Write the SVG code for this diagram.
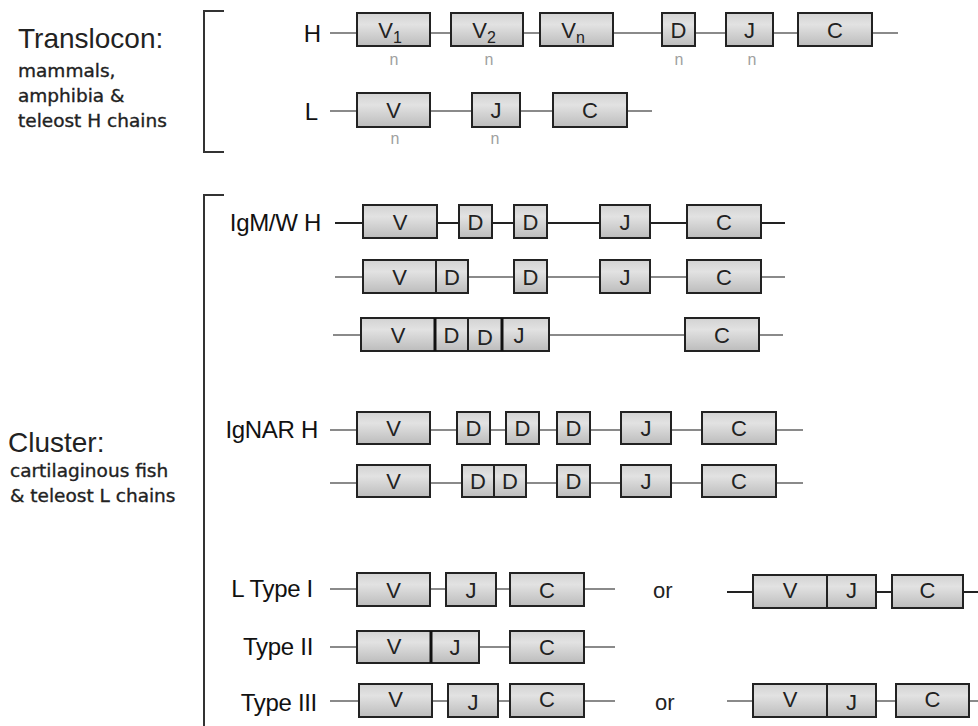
<svg xmlns="http://www.w3.org/2000/svg" width="978" height="726" viewBox="0 0 978 726">
<defs>
<linearGradient id="g" x1="0" y1="0" x2="0" y2="1">
<stop offset="0" stop-color="#d2d2d2"/>
<stop offset="0.35" stop-color="#e2e2e2"/>
<stop offset="1" stop-color="#bcbcbc"/>
</linearGradient>
<style>
.b rect{fill:url(#g);stroke:#222;stroke-width:2}
.b text,.t{font-family:"Liberation Sans",Arial,sans-serif;fill:#222}
.b text{font-size:22px;text-anchor:middle}
.s{font-family:"DejaVu Sans",Verdana,sans-serif;font-size:18.5px;fill:#222;stroke:#222;stroke-width:0.35}
.lbl{font-family:"Liberation Sans",Arial,sans-serif;font-size:24px;fill:#111;text-anchor:end}
.n{font-family:"Liberation Sans",Arial,sans-serif;font-size:16px;fill:#a0a0a0;text-anchor:middle}
.ln{stroke:#8a8a8a;stroke-width:2;fill:none}
.dk{stroke:#222}
.br{stroke:#333;stroke-width:2;fill:none}
.thick{stroke:#111;stroke-width:3}
</style>
</defs>
<rect width="978" height="726" fill="#fff"/>

<g id="left-labels">
<text class="t" x="18" y="48" font-size="28">Translocon:</text>
<text class="s" x="18" y="77">mammals,</text>
<text class="s" x="18" y="102">amphibia &amp;</text>
<text class="s" x="18" y="127">teleost H chains</text>
<text class="t" x="8" y="452" font-size="28">Cluster:</text>
<text class="s" x="10" y="477">cartilaginous fish</text>
<text class="s" x="10" y="502">&amp; teleost L chains</text>
</g>

<g id="brackets">
<path class="br" d="M224,11 H204 V152 H224"/>
<path class="br" d="M224,195 H204 V726"/>
</g>

<g id="row-labels">
<text class="lbl" x="321" y="42" font-size="25">H</text>
<text class="lbl" x="318" y="120" font-size="25">L</text>
<text class="lbl" x="321" y="231" letter-spacing="-0.3">IgM/W H</text>
<text class="lbl" x="318" y="438" letter-spacing="-0.3">IgNAR H</text>
<text class="lbl" x="313" y="597" letter-spacing="-0.3">L Type I</text>
<text class="lbl" x="313" y="655" letter-spacing="-0.3">Type II</text>
<text class="lbl" x="317" y="711" letter-spacing="-0.3">Type III</text>
<text class="t" x="653" y="598" font-size="22">or</text>
<text class="t" x="655" y="710" font-size="22">or</text>
</g>

<g id="connectors">
<line class="ln" x1="330" y1="33" x2="898" y2="33" stroke="#6a6a6a"/>
<line class="ln" x1="330" y1="111" x2="652" y2="111"/>
<line class="ln dk" x1="335" y1="223" x2="785" y2="223"/>
<line class="ln" x1="335" y1="277" x2="785" y2="277"/>
<line class="ln" x1="333" y1="335" x2="783" y2="335"/>
<line class="ln" x1="330" y1="430" x2="803" y2="430"/>
<line class="ln" x1="330" y1="483" x2="803" y2="483"/>
<line class="ln" x1="330" y1="589" x2="615" y2="589"/>
<line class="ln dk" x1="727" y1="592" x2="978" y2="592"/>
<line class="ln" x1="330" y1="647" x2="615" y2="647"/>
<line class="ln" x1="330" y1="701" x2="615" y2="701"/>
<line class="ln" x1="727" y1="701" x2="978" y2="701"/>
</g>

<g id="translocon-H">
<g id="h-v1" class="b"><rect x="357" y="13" width="73" height="33"/><text x="390" y="38">V<tspan font-size="16" dy="5">1</tspan></text></g>
<g id="h-v2" class="b"><rect x="451" y="13" width="72" height="33"/><text x="484" y="38">V<tspan font-size="16" dy="5">2</tspan></text></g>
<g id="h-vn" class="b"><rect x="540" y="13" width="73" height="33"/><text x="573" y="38">V<tspan font-size="16" dy="5">n</tspan></text></g>
<g id="h-d" class="b"><rect x="662" y="13" width="33" height="33"/><text x="678.5" y="38">D</text></g>
<g id="h-j" class="b"><rect x="726" y="13" width="47" height="33"/><text x="749.5" y="38">J</text></g>
<g id="h-c" class="b"><rect x="798" y="13" width="74" height="33"/><text x="835" y="38">C</text></g>
<text class="n" x="394" y="65">n</text>
<text class="n" x="489" y="65">n</text>
<text class="n" x="679" y="65">n</text>
<text class="n" x="752" y="65">n</text>
</g>

<g id="translocon-L">
<g id="l-v" class="b"><rect x="357" y="93" width="73" height="34"/><text x="393.5" y="118">V</text></g>
<g id="l-j" class="b"><rect x="472" y="93" width="48" height="34"/><text x="496" y="118">J</text></g>
<g id="l-c" class="b"><rect x="553" y="93" width="74" height="34"/><text x="590" y="118">C</text></g>
<text class="n" x="395" y="144">n</text>
<text class="n" x="495" y="144">n</text>
</g>

<g id="igm-1">
<g id="m1-v" class="b"><rect x="363" y="205" width="74" height="33"/><text x="400" y="230">V</text></g>
<g id="m1-d1" class="b"><rect x="459" y="205" width="33" height="33"/><text x="475.5" y="230">D</text></g>
<g id="m1-d2" class="b"><rect x="514" y="205" width="33" height="33"/><text x="530.5" y="230">D</text></g>
<g id="m1-j" class="b"><rect x="600" y="205" width="50" height="33"/><text x="625" y="230">J</text></g>
<g id="m1-c" class="b"><rect x="687" y="205" width="74" height="33"/><text x="724" y="230">C</text></g>
</g>

<g id="igm-2">
<g id="m2-v" class="b"><rect x="363" y="260" width="73" height="33"/><text x="399.5" y="285">V</text></g>
<g id="m2-d1" class="b"><rect x="436" y="260" width="32" height="33"/><text x="452" y="285">D</text></g>
<g id="m2-d2" class="b"><rect x="514" y="260" width="33" height="33"/><text x="530.5" y="285">D</text></g>
<g id="m2-j" class="b"><rect x="600" y="260" width="50" height="33"/><text x="625" y="285">J</text></g>
<g id="m2-c" class="b"><rect x="687" y="260" width="74" height="33"/><text x="724" y="285">C</text></g>
</g>

<g id="igm-3">
<g id="m3-v" class="b"><rect x="361" y="318" width="74" height="33"/><text x="398" y="343">V</text></g>
<g id="m3-d1" class="b"><rect x="435" y="318" width="33" height="33"/><text x="451.5" y="343">D</text></g>
<g id="m3-d2" class="b"><rect x="468" y="318" width="34" height="33"/><text x="485" y="345">D</text></g>
<g id="m3-j" class="b"><rect x="502" y="318" width="47" height="33"/><text x="519" y="343">J</text></g>
<line class="thick" x1="435" y1="318" x2="435" y2="351"/>
<line class="thick" x1="502" y1="318" x2="502" y2="351"/>
<g id="m3-c" class="b"><rect x="685" y="318" width="74" height="33"/><text x="722" y="343">C</text></g>
</g>

<g id="ignar-1">
<g id="n1-v" class="b"><rect x="357" y="412" width="73" height="32"/><text x="393.5" y="436">V</text></g>
<g id="n1-d1" class="b"><rect x="457" y="412" width="33" height="32"/><text x="473.5" y="436">D</text></g>
<g id="n1-d2" class="b"><rect x="506" y="412" width="33" height="32"/><text x="522.5" y="436">D</text></g>
<g id="n1-d3" class="b"><rect x="557" y="412" width="33" height="32"/><text x="573.5" y="436">D</text></g>
<g id="n1-j" class="b"><rect x="621" y="412" width="50" height="32"/><text x="646" y="436">J</text></g>
<g id="n1-c" class="b"><rect x="702" y="412" width="74" height="32"/><text x="739" y="436">C</text></g>
</g>

<g id="ignar-2">
<g id="n2-v" class="b"><rect x="357" y="465" width="73" height="32"/><text x="393.5" y="489">V</text></g>
<g id="n2-d1" class="b"><rect x="462" y="465" width="32" height="32"/><text x="478" y="489">D</text></g>
<g id="n2-d2" class="b"><rect x="494" y="465" width="32" height="32"/><text x="510" y="489">D</text></g>
<g id="n2-d3" class="b"><rect x="557" y="465" width="33" height="32"/><text x="573.5" y="489">D</text></g>
<g id="n2-j" class="b"><rect x="621" y="465" width="50" height="32"/><text x="646" y="489">J</text></g>
<g id="n2-c" class="b"><rect x="702" y="465" width="74" height="32"/><text x="739" y="489">C</text></g>
</g>

<g id="ltype1">
<g id="t1-v" class="b"><rect x="357" y="573" width="73" height="33"/><text x="393.5" y="598">V</text></g>
<g id="t1-j" class="b"><rect x="446" y="573" width="50" height="33"/><text x="471" y="598">J</text></g>
<g id="t1-c" class="b"><rect x="510" y="573" width="74" height="33"/><text x="547" y="598">C</text></g>
</g>
<g id="ltype1-alt">
<g id="t1b-v" class="b"><rect x="753" y="575" width="74" height="33"/><text x="790" y="598">V</text></g>
<g id="t1b-j" class="b"><rect x="827" y="575" width="49" height="33"/><text x="851.5" y="598">J</text></g>
<g id="t1b-c" class="b"><rect x="892" y="575" width="71" height="33"/><text x="927.5" y="598">C</text></g>
</g>

<g id="ltype2">
<g id="t2-v" class="b"><rect x="357" y="631" width="74" height="32"/><text x="394" y="654">V</text></g>
<g id="t2-j" class="b"><rect x="431" y="631" width="48" height="32"/><text x="455" y="655">J</text></g>
<line class="thick" x1="431" y1="631" x2="431" y2="663"/>
<g id="t2-c" class="b"><rect x="510" y="631" width="74" height="32"/><text x="547" y="655">C</text></g>
</g>

<g id="ltype3">
<g id="t3-v" class="b"><rect x="359" y="684" width="73" height="33"/><text x="395.5" y="707">V</text></g>
<g id="t3-j" class="b"><rect x="448" y="684" width="50" height="33"/><text x="473" y="710">J</text></g>
<g id="t3-c" class="b"><rect x="510" y="684" width="74" height="33"/><text x="547" y="707">C</text></g>
</g>
<g id="ltype3-alt">
<g id="t3b-v" class="b"><rect x="753" y="684" width="74" height="33"/><text x="790" y="707">V</text></g>
<g id="t3b-j" class="b"><rect x="827" y="684" width="49" height="33"/><text x="851.5" y="710">J</text></g>
<g id="t3b-c" class="b"><rect x="896" y="684" width="73" height="33"/><text x="932.5" y="707">C</text></g>
</g>
</svg>
